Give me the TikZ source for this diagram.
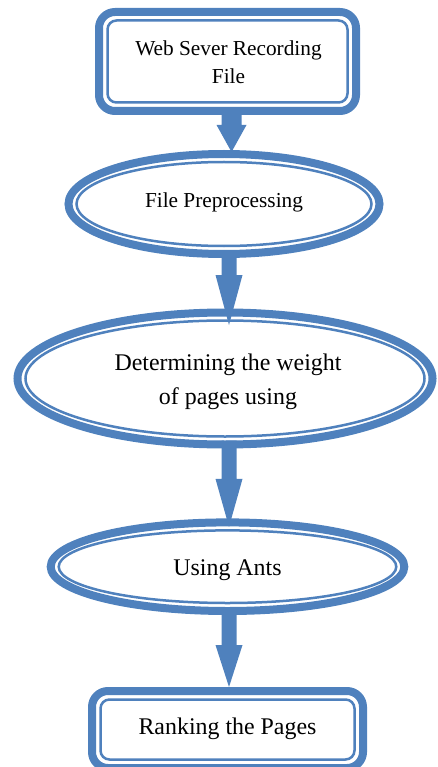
\documentclass[tikz,border=0pt]{standalone}
\usepackage{fontspec}
\setmainfont{Liberation Serif}
\usetikzlibrary{shapes.geometric,calc}
\definecolor{flowblue}{RGB}{79,129,189}
\tikzset{
  outerline/.style={draw=flowblue, line width=8pt, fill=white, inner sep=0pt},
  innerline/.style={draw=flowblue, line width=2.5pt, inner sep=0pt, align=center, text=black},
  smalltext/.style={font=\fontsize{21.3}{28}\selectfont},
  bigtext/.style={font=\fontsize{23.9}{34}\selectfont},
  arrowfill/.style={fill=flowblue}
}
\newcommand\flowarrow[5]{%
  \fill[arrowfill] let \p1=(#1), \p2=(#2) in
    (\x1-#3pt,\y1) -- (\x1+#3pt,\y1) -- (\x1+#3pt,\y2+#5pt) -- (\x1+#4pt,\y2+#5pt)
    -- (\x1,\y2) -- (\x1-#4pt,\y2+#5pt) -- (\x1-#3pt,\y2+#5pt) -- cycle;}
\begin{document}
\begin{tikzpicture}[x=1pt,y=-1pt]
\useasboundingbox (0,0) rectangle (437,767);
% box 1
\node[outerline, rectangle, rounded corners=16pt, minimum width=257pt, minimum height=99pt] (b1) at (227.5,61.5) {};
\node[innerline, rectangle, rounded corners=9pt, minimum width=240pt, minimum height=82pt] (b1in) at (b1) {};
\node[smalltext, align=center, inner sep=0pt] (b1t) at ($(b1in)+(1,0.5)$) {Web Sever Recording\\File};
% ellipse 2
\node[outerline, ellipse, minimum width=311pt, minimum height=100pt] (e2) at (224,204) {};
\node[innerline, ellipse, minimum width=295pt, minimum height=84pt] (e2in) at (e2) {};
\node[smalltext, inner sep=0pt] (e2t) at ($(e2in)+(0,-1.5)$) {File Preprocessing};
% ellipse 3
\node[outerline, ellipse, minimum width=415pt, minimum height=132pt] (e3) at (225,378.5) {};
\node[innerline, ellipse, minimum width=399pt, minimum height=116pt] (e3in) at (e3) {};
\node[bigtext, align=center, inner sep=0pt] (e3t) at ($(e3in)+(3,3)$) {Determining the weight\\of pages using};
% ellipse 4
\node[outerline, ellipse, minimum width=353.6pt, minimum height=88.6pt] (e4) at (227.5,566.7) {};
\node[innerline, ellipse, minimum width=337.6pt, minimum height=72.6pt] (e4in) at (e4) {};
\node[bigtext, inner sep=0pt] (e4t) at ($(e4in)+(0,3)$) {Using Ants};
% box 5
\node[outerline, rectangle, rounded corners=16pt, minimum width=271pt, minimum height=77pt] (b5) at (227.5,729.5) {};
\node[innerline, rectangle, rounded corners=9pt, minimum width=254pt, minimum height=60pt] (b5in) at (b5) {};
\node[bigtext, inner sep=0pt] (b5t) at ($(b5in)+(0,-1)$) {Ranking the Pages};
% arrows
\coordinate (a1s) at ($(b1.south)+(4,0)$);
\coordinate (a1t) at ($(e2.north)+(7.5,2)$);
\coordinate (a2s) at ($(e2.south)+(5,-8)$);
\coordinate (a2t) at ($(e3.north)+(4,16.5)$);
\coordinate (a3s) at ($(e3.south)+(4,-8)$);
\coordinate (a3t) at ($(e4.north)+(1.5,8.5)$);
\coordinate (a4s) at ($(e4.south)+(1.5,-8)$);
\coordinate (a4t) at ($(b5.north)+(1.5,0)$);
\flowarrow{a1s}{a1t}{10}{15}{27}
\flowarrow{a2s}{a2t}{7.5}{13.5}{50}
\flowarrow{a3s}{a3t}{7.5}{13.5}{48}
\flowarrow{a4s}{a4t}{7.5}{13.5}{42}
\end{tikzpicture}
\end{document}
